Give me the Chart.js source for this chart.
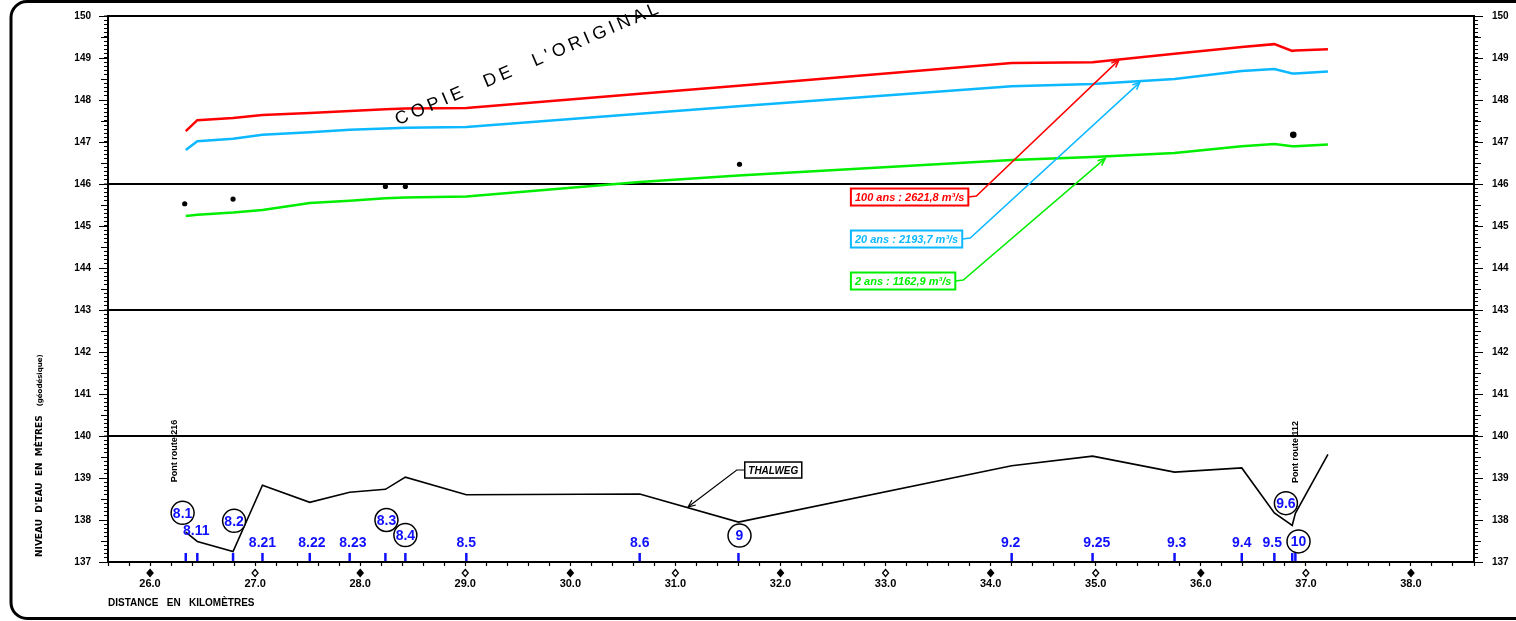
<!DOCTYPE html>
<html>
<head>
<meta charset="utf-8">
<script src="https://cdn.jsdelivr.net/npm/chart.js@4/dist/chart.umd.min.js"></script>
<style>
  html, body { margin: 0; padding: 0; background: #fff; }
  #profil { display: block; }
</style>
</head>
<body>
<canvas id="profil" width="1516" height="621"></canvas>
<script>
// profil en long - niveaux d'eau et thalweg
const profileKm = [26.34, 26.45, 26.79, 27.07, 27.52, 27.90, 28.24, 28.43, 29.01, 30.66, 31.60, 34.20, 34.97, 35.75, 36.39, 36.70, 36.87, 36.90, 37.21];
const level100 = [147.26, 147.52, 147.57, 147.64, 147.69, 147.74, 147.78, 147.80, 147.81, 148.15, 148.34, 148.88, 148.90, 149.10, 149.26, 149.33, 149.17, 149.18, 149.21];
const level20 = [146.81, 147.02, 147.08, 147.17, 147.23, 147.29, 147.32, 147.34, 147.36, 147.67, 147.85, 148.33, 148.38, 148.50, 148.69, 148.74, 148.63, 148.63, 148.68];
const level2 = [145.24, 145.27, 145.32, 145.38, 145.55, 145.60, 145.66, 145.68, 145.70, 146.05, 146.20, 146.57, 146.64, 146.74, 146.90, 146.95, 146.90, 146.90, 146.94];
const thalweg = [137.71, 137.49, 137.25, 138.83, 138.42, 138.66, 138.73, 139.02, 138.60, 138.62, 137.95, 139.29, 139.52, 139.14, 139.24, 138.17, 137.87, 138.16, 139.56];

// niveaux observés
const obsKm = [26.33, 26.79, 28.24, 28.43, 31.61, 36.88];
const obsLevel = [145.53, 145.64, 145.94, 145.94, 146.47, 147.17];

// sections
const stationKm = [26.34, 26.45, 26.79, 27.07, 27.52, 27.90, 28.24, 28.43, 29.01, 30.66, 31.60, 34.20, 34.97, 35.75, 36.39, 36.70, 36.87, 36.90];
const stationName = ['8.1', '8.11', '8.2', '8.21', '8.22', '8.23', '8.3', '8.4', '8.5', '8.6', '9', '9.2', '9.25', '9.3', '9.4', '9.5', '9.6', '10'];
const stationCircled = [1, 0, 1, 0, 0, 0, 1, 1, 0, 0, 1, 0, 0, 0, 0, 0, 1, 1];
const labelKm = [26.31, 26.44, 26.80, 27.07, 27.54, 27.93, 28.25, 28.43, 29.01, 30.66, 31.61, 34.19, 35.01, 35.77, 36.39, 36.68, 36.81, 36.93];
const labelLevel = [138.17, 137.76, 137.98, 137.48, 137.48, 137.48, 138.00, 137.64, 137.48, 137.48, 137.63, 137.48, 137.48, 137.48, 137.48, 137.48, 138.40, 137.49];

// crues
const floodText = ['100 ans : 2621,8 m³/s', '20 ans : 2193,7 m³/s', '2 ans : 1162,9 m³/s'];
const floodColor = ['#ff0000', '#0cb8ff', '#00ee00'];
const floodBoxKm = 32.67;
const floodBoxLevel = [145.69, 144.69, 143.69];
const floodTipKm = [35.22, 35.42, 35.09];
const floodTipLevel = [148.95, 148.42, 146.61];

const bridgeText = ['Pont route 216', 'Pont route 112'];
const bridgeKm = [26.23, 36.90];
const bridgeLevel = [138.90, 138.88];

const stationBlue = '#1010ff';
const isInt = v => Math.abs(v - Math.round(v)) < 1e-6;
const near = (v, list) => list.some(t => Math.abs(v - t) < 1e-6);

function pts(ys) {
  return profileKm.map((k, i) => ({ x: k, y: ys[i] }));
}

function arrowHead(ctx, x0, y0, x1, y1) {
  const a = Math.atan2(y1 - y0, x1 - x0);
  const L = 8, s = 0.4;
  ctx.beginPath();
  ctx.moveTo(x1 - L * Math.cos(a - s), y1 - L * Math.sin(a - s));
  ctx.lineTo(x1, y1);
  ctx.lineTo(x1 - L * Math.cos(a + s), y1 - L * Math.sin(a + s));
  ctx.stroke();
}

// fixed axis sizes, no extra label padding
const fixV = w => s => { s.width = w; s.paddingTop = 0; s.paddingBottom = 0; };

const decor = {
  id: 'decor',
  afterDatasetsDraw(chart) {
    const ctx = chart.ctx;
    const xs = chart.scales.x, ys = chart.scales.y;
    const px = v => xs.getPixelForValue(v), py = v => ys.getPixelForValue(v);
    const area = chart.chartArea;
    ctx.save();

    // longer ticks on y axes
    ctx.strokeStyle = '#000';
    ctx.lineWidth = 1.2;
    for (let v = 137; v <= 150.001; v += 0.5) {
      const len = isInt(v) ? 9 : 7;
      const y = Math.round(py(v)) + 0.5;
      ctx.beginPath();
      ctx.moveTo(area.left - len, y); ctx.lineTo(area.left, y);
      ctx.moveTo(area.right, y); ctx.lineTo(area.right + len, y);
      ctx.stroke();
    }

    // diamonds under km labels
    for (let k = 26; k <= 38; k++) {
      const x = px(k), y = area.bottom + 11;
      ctx.beginPath();
      ctx.moveTo(x, y - 3.5); ctx.lineTo(x + 3, y); ctx.lineTo(x, y + 3.5); ctx.lineTo(x - 3, y); ctx.closePath();
      ctx.lineWidth = 1.3;
      if (k % 2 === 0) { ctx.fillStyle = '#000'; ctx.fill(); }
      ctx.stroke();
    }

    // station labels
    ctx.font = 'bold 14px "Liberation Sans"';
    ctx.textAlign = 'center';
    ctx.textBaseline = 'middle';
    stationName.forEach((n, i) => {
      const x = px(labelKm[i]), y = py(labelLevel[i]);
      if (stationCircled[i]) {
        ctx.beginPath();
        ctx.arc(x, y, 11.5, 0, Math.PI * 2);
        ctx.fillStyle = '#fff';
        ctx.fill();
        ctx.lineWidth = 1.5;
        ctx.strokeStyle = '#000';
        ctx.stroke();
      }
      ctx.fillStyle = stationBlue;
      ctx.fillText(n, x, y + 1);
    });

    // flood legend boxes and leaders
    ctx.font = 'italic bold 11px "Liberation Sans"';
    ctx.textAlign = 'left';
    floodText.forEach((t, i) => {
      const x = px(floodBoxKm), yc = py(floodBoxLevel[i]);
      const w = ctx.measureText(t).width + 8, h = 17;
      ctx.strokeStyle = floodColor[i];
      ctx.fillStyle = floodColor[i];
      ctx.lineWidth = 2;
      ctx.strokeRect(x, yc - h / 2, w, h);
      ctx.fillText(t, x + 4, yc + 1);
      const cx = x + w + 8, tx = px(floodTipKm[i]), ty = py(floodTipLevel[i]);
      ctx.lineWidth = 1.5;
      ctx.beginPath();
      ctx.moveTo(x + w, yc); ctx.lineTo(cx, yc - 1); ctx.lineTo(tx, ty);
      ctx.stroke();
      arrowHead(ctx, cx, yc - 1, tx, ty);
    });

    // THALWEG label
    {
      const x = px(31.66), yc = py(139.19);
      ctx.font = 'italic bold 10px "Liberation Sans"';
      const w = 57, h = 16;
      ctx.strokeStyle = '#000';
      ctx.fillStyle = '#000';
      ctx.lineWidth = 1.5;
      ctx.strokeRect(x, yc - h / 2, w, h);
      ctx.textAlign = 'center';
      ctx.fillText('THALWEG', x + w / 2, yc + 1);
      const tx = px(31.12), ty = py(138.31);
      ctx.lineWidth = 1.2;
      ctx.beginPath();
      ctx.moveTo(x, yc); ctx.lineTo(x - 8, yc); ctx.lineTo(tx, ty);
      ctx.stroke();
      arrowHead(ctx, x - 8, yc, tx, ty);
    }

    // bridges
    ctx.font = 'bold 9px "Liberation Sans"';
    ctx.fillStyle = '#000';
    ctx.textAlign = 'left';
    bridgeText.forEach((t, i) => {
      ctx.save();
      ctx.translate(px(bridgeKm[i]), py(bridgeLevel[i]));
      ctx.rotate(-Math.PI / 2);
      ctx.fillText(t, 0, 0);
      ctx.restore();
    });

    // watermark
    {
      ctx.save();
      ctx.translate(px(28.36), py(147.40));
      ctx.rotate(-23.2 * Math.PI / 180);
      ctx.font = '18px "Liberation Sans"';
      ctx.textBaseline = 'alphabetic';
      ctx.fillStyle = '#000';
      let x = 0;
      for (const ch of "COPIE DE L'ORIGINAL") {
        if (ch === ' ') { x += 20; continue; }
        ctx.fillText(ch, x, 0);
        x += ctx.measureText(ch).width + 4;
      }
      ctx.restore();
    }

    ctx.restore();
  },
  afterDraw(chart) {
    const ctx = chart.ctx;
    const area = chart.chartArea;
    ctx.save();
    // y axis title
    ctx.translate(40, area.bottom - 5);
    ctx.rotate(-Math.PI / 2);
    ctx.fillStyle = '#000';
    ctx.textAlign = 'left';
    ctx.textBaseline = 'middle';
    ctx.font = 'bold 9px "DejaVu Sans"';
    const t1 = "NIVEAU  D'EAU  EN  MÈTRES";
    ctx.fillText(t1, 0, 0);
    const w1 = ctx.measureText(t1).width;
    ctx.font = 'bold 7px "DejaVu Sans"';
    ctx.fillText('(géodésique)', w1 + 9, 0);
    ctx.restore();

    // frame
    ctx.save();
    ctx.strokeStyle = '#000';
    ctx.lineWidth = 3;
    ctx.beginPath();
    ctx.roundRect(11, 1.5, 1600, 617, 16);
    ctx.stroke();
    ctx.restore();
  }
};

const lineSet = (label, data, color, width) => ({
  type: 'line', label, data, borderColor: color, backgroundColor: color,
  borderWidth: width, pointRadius: 0, fill: false, tension: 0
});

const yTicks = {
  stepSize: 0.1, maxTicksLimit: 1000, autoSkip: false,
  color: '#000', font: { family: 'Liberation Sans', size: 10, weight: 'bold' },
  callback: v => isInt(v) ? String(Math.round(v)) : ''
};

new Chart(document.getElementById('profil'), {
  type: 'scatter',
  data: {
    datasets: [
      lineSet('100 ans', pts(level100), floodColor[0], 2.5),
      lineSet('20 ans', pts(level20), floodColor[1], 2.5),
      lineSet('2 ans', pts(level2), floodColor[2], 2.5),
      lineSet('Thalweg', pts(thalweg), '#000', 1.6),
      {
        label: 'Niveaux observés',
        data: obsKm.map((k, i) => ({ x: k, y: obsLevel[i] })),
        pointRadius: obsKm.map((k, i) => i === obsKm.length - 1 ? 3.3 : 2.6),
        pointBackgroundColor: '#000', pointBorderWidth: 0
      },
      {
        label: 'Sections',
        data: stationKm.map(k => ({ x: k, y: 137.12 })),
        pointStyle: 'line', rotation: 90, pointRadius: 4,
        pointBorderColor: stationBlue, pointBorderWidth: 2.5
      }
    ]
  },
  options: {
    responsive: false,
    animation: false,
    events: [],
    layout: { padding: { top: 16, left: 0, right: 0, bottom: 0 } },
    plugins: { legend: { display: false }, tooltip: { enabled: false } },
    scales: {
      x: {
        type: 'linear', position: 'bottom', min: 25.6, max: 38.6,
        afterFit: s => { s.height = 59; s.paddingLeft = 0; s.paddingRight = 0; },
        border: { display: true, color: '#000', width: 2 },
        grid: { drawOnChartArea: false, tickLength: 4, color: '#000', tickColor: '#000', tickWidth: 1.2 },
        ticks: {
          stepSize: 0.2, maxTicksLimit: 1000, autoSkip: false, maxRotation: 0, padding: 11,
          color: '#000', font: { family: 'Liberation Sans', size: 11, weight: 'bold' },
          callback: v => isInt(v) ? v.toFixed(1) : ''
        },
        title: {
          display: true, align: 'start', text: 'DISTANCE   EN   KILOMÈTRES', color: '#000',
          font: { family: 'Liberation Sans', size: 10, weight: 'bold' }, padding: { top: 0, bottom: 12 }
        }
      },
      y: {
        type: 'linear', position: 'left', min: 137, max: 150,
        afterFit: fixV(108),
        border: { display: true, color: '#000', width: 2 },
        grid: {
          tickLength: 4, tickColor: '#000', tickWidth: 1,
          color: c => near(c.tick.value, [140, 143, 146, 150]) ? '#000' : 'rgba(0,0,0,0)',
          lineWidth: c => near(c.tick.value, [140, 143, 146, 150]) ? 2 : 1
        },
        ticks: Object.assign({ padding: 13 }, yTicks)
      },
      y2: {
        type: 'linear', position: 'right', min: 137, max: 150,
        afterFit: fixV(42),
        border: { display: true, color: '#000', width: 2 },
        grid: { drawOnChartArea: false, tickLength: 4, color: '#000', tickColor: '#000', tickWidth: 1 },
        ticks: Object.assign({ padding: 14 }, yTicks)
      }
    }
  },
  plugins: [decor]
});
</script>
</body>
</html>
